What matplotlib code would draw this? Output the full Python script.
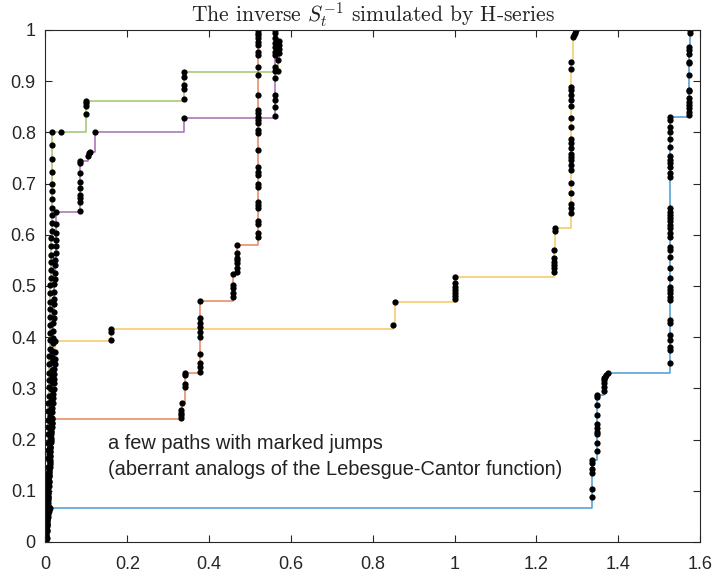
import numpy as np
import matplotlib
matplotlib.use('Agg')
from matplotlib import pyplot as plt
from matplotlib.ticker import FormatStrFormatter

# blue path (x = S, y = u)
BLUE_X = [0.000, 0.001, 0.002, 0.002, 0.003, 0.004, 0.005, 0.006, 0.008, 0.010,
          1.336, 1.336, 1.336, 1.336, 1.336, 1.337,
          1.348, 1.348, 1.348, 1.348, 1.348, 1.348, 1.348, 1.348, 1.348, 1.349,
          1.366, 1.366, 1.366, 1.366, 1.366, 1.367, 1.370, 1.376,
          1.527, 1.527, 1.527, 1.527, 1.527, 1.527, 1.527, 1.527, 1.527, 1.527,
          1.527, 1.527, 1.527, 1.527, 1.527, 1.527, 1.527, 1.527, 1.527, 1.527,
          1.527, 1.527, 1.527, 1.527, 1.527, 1.527, 1.527, 1.527, 1.527, 1.527,
          1.527, 1.527, 1.527, 1.527, 1.527, 1.527, 1.527, 1.527,
          1.572, 1.572, 1.572, 1.572, 1.572, 1.572, 1.572, 1.572, 1.572, 1.574,
          1.574, 1.574, 1.574, 1.574, 1.575, 1.575]
BLUE_Y = [0.004, 0.011, 0.019, 0.026, 0.034, 0.041, 0.048, 0.055, 0.061, 0.066,
          0.087, 0.103, 0.135, 0.142, 0.155, 0.160,
          0.178, 0.193, 0.211, 0.215, 0.222, 0.230, 0.249, 0.268, 0.283, 0.287,
          0.294, 0.303, 0.310, 0.316, 0.320, 0.323, 0.326, 0.331,
          0.349, 0.375, 0.381, 0.395, 0.404, 0.427, 0.434, 0.473, 0.479, 0.486,
          0.492, 0.498, 0.515, 0.535, 0.557, 0.570, 0.577, 0.596, 0.603, 0.613,
          0.619, 0.626, 0.632, 0.639, 0.645, 0.652, 0.713, 0.720, 0.733, 0.740,
          0.746, 0.753, 0.772, 0.788, 0.801, 0.811, 0.824, 0.831,
          0.834, 0.840, 0.847, 0.854, 0.860, 0.867, 0.880, 0.883, 0.912, 0.935,
          0.938, 0.954, 0.961, 0.967, 0.994, 1.000]

# red path
RED_X = [0.001, 0.001, 0.002, 0.002, 0.003, 0.003, 0.004, 0.004, 0.005, 0.005,
         0.006, 0.006, 0.007, 0.007, 0.008, 0.008, 0.009, 0.009, 0.010, 0.010,
         0.011, 0.011, 0.012, 0.012, 0.013, 0.013, 0.014, 0.014, 0.015, 0.015,
         0.332, 0.332, 0.332, 0.332, 0.333,
         0.340, 0.340, 0.340, 0.340,
         0.377, 0.377, 0.377, 0.377, 0.377, 0.377, 0.377, 0.377, 0.377, 0.378,
         0.458, 0.458, 0.458, 0.458, 0.458,
         0.467, 0.467, 0.467, 0.467, 0.467, 0.467, 0.467,
         0.519, 0.519, 0.519, 0.519, 0.519, 0.519, 0.519, 0.519, 0.519, 0.519,
         0.519, 0.519, 0.519, 0.519, 0.519, 0.519, 0.519, 0.519, 0.519, 0.519,
         0.519, 0.519, 0.519, 0.519, 0.519, 0.519, 0.519, 0.519, 0.519, 0.519,
         0.519]
RED_Y = [0.004, 0.011, 0.021, 0.028, 0.037, 0.045, 0.052, 0.062, 0.070, 0.076,
         0.087, 0.095, 0.101, 0.112, 0.118, 0.128, 0.136, 0.142, 0.153, 0.161,
         0.167, 0.177, 0.184, 0.194, 0.200, 0.210, 0.216, 0.226, 0.232, 0.240,
         0.242, 0.248, 0.252, 0.257, 0.271,
         0.303, 0.309, 0.326, 0.331,
         0.333, 0.341, 0.349, 0.367, 0.401, 0.411, 0.419, 0.427, 0.437, 0.470,
         0.479, 0.486, 0.496, 0.502, 0.523,
         0.528, 0.535, 0.544, 0.551, 0.554, 0.564, 0.580,
         0.596, 0.603, 0.622, 0.626, 0.652, 0.658, 0.665, 0.694, 0.700, 0.717,
         0.723, 0.733, 0.766, 0.798, 0.805, 0.818, 0.824, 0.831, 0.837, 0.844,
         0.873, 0.912, 0.928, 0.951, 0.958, 0.971, 0.977, 0.984, 0.990, 0.995,
         1.000]

# yellow path
YELLOW_X = [0.002, 0.002, 0.003, 0.003, 0.004, 0.004, 0.005, 0.005, 0.006, 0.006,
            0.007, 0.008, 0.008, 0.009, 0.009, 0.010, 0.011, 0.011, 0.012, 0.012,
            0.013, 0.014, 0.014, 0.015, 0.015, 0.016, 0.017, 0.017, 0.018, 0.018,
            0.019, 0.020, 0.020, 0.021, 0.021, 0.022, 0.023, 0.023, 0.024, 0.024,
            0.159, 0.159, 0.159,
            0.849, 0.855,
            1.001, 1.001, 1.001, 1.001, 1.001, 1.001, 1.001,
            1.242, 1.242, 1.242, 1.242, 1.242, 1.242, 1.246, 1.246,
            1.284, 1.284, 1.284, 1.284, 1.284, 1.284, 1.284, 1.284, 1.284, 1.284,
            1.284, 1.284, 1.284, 1.284, 1.284, 1.284, 1.284, 1.284, 1.284, 1.284,
            1.284, 1.284, 1.290, 1.292, 1.295, 1.297]
YELLOW_Y = [0.006, 0.015, 0.024, 0.035, 0.043, 0.053, 0.062, 0.071, 0.082, 0.090,
            0.100, 0.110, 0.119, 0.128, 0.139, 0.147, 0.157, 0.167, 0.176, 0.185,
            0.196, 0.204, 0.214, 0.224, 0.233, 0.242, 0.253, 0.261, 0.271, 0.281,
            0.290, 0.299, 0.310, 0.318, 0.328, 0.338, 0.347, 0.357, 0.372, 0.392,
            0.395, 0.411, 0.416,
            0.423, 0.469,
            0.474, 0.480, 0.486, 0.492, 0.498, 0.506, 0.518,
            0.528, 0.535, 0.541, 0.547, 0.554, 0.570, 0.608, 0.613,
            0.643, 0.652, 0.660, 0.681, 0.702, 0.727, 0.736, 0.746, 0.751, 0.758,
            0.769, 0.779, 0.788, 0.810, 0.829, 0.852, 0.863, 0.873, 0.883, 0.889,
            0.923, 0.938, 0.987, 0.990, 0.995, 1.000]

# purple path
PURPLE_X = [0.003, 0.003, 0.004, 0.004, 0.005, 0.005, 0.006, 0.006, 0.007, 0.007,
            0.008, 0.008, 0.009, 0.009, 0.010, 0.010, 0.011, 0.011, 0.012, 0.012,
            0.013, 0.013, 0.014, 0.014, 0.015, 0.015, 0.016, 0.016, 0.017, 0.017,
            0.018, 0.018, 0.019, 0.019, 0.020, 0.020, 0.021, 0.021, 0.022, 0.022,
            0.023, 0.023, 0.024, 0.024, 0.025, 0.025, 0.025, 0.026, 0.026, 0.026,
            0.0855, 0.0855, 0.0855, 0.0855, 0.0855, 0.0855, 0.0855, 0.0855, 0.0855,
            0.103, 0.106, 0.108, 0.122, 0.338,
            0.560, 0.560, 0.560, 0.560, 0.560, 0.560, 0.560, 0.560,
            0.562, 0.562, 0.562, 0.562, 0.562, 0.562]
PURPLE_Y = [0.008, 0.021, 0.032, 0.046, 0.058, 0.071, 0.085, 0.095, 0.109, 0.123,
            0.133, 0.147, 0.161, 0.171, 0.185, 0.199, 0.209, 0.223, 0.237, 0.247,
            0.261, 0.275, 0.285, 0.298, 0.313, 0.323, 0.336, 0.351, 0.361, 0.374,
            0.389, 0.399, 0.412, 0.427, 0.437, 0.450, 0.465, 0.475, 0.488, 0.503,
            0.513, 0.526, 0.541, 0.551, 0.564, 0.579, 0.589, 0.603, 0.622, 0.644,
            0.647, 0.665, 0.671, 0.678, 0.691, 0.704, 0.720, 0.740, 0.745,
            0.753, 0.760, 0.762, 0.800, 0.829,
            0.833, 0.849, 0.863, 0.873, 0.906, 0.919, 0.928, 0.951,
            0.958, 0.967, 0.974, 0.984, 0.994, 1.000]

# green path
GREEN_X = [0.002, 0.002, 0.002, 0.003, 0.003, 0.003, 0.004, 0.004, 0.004, 0.005,
           0.005, 0.005, 0.006, 0.006, 0.006, 0.007, 0.007, 0.007, 0.008, 0.008,
           0.008, 0.009, 0.009, 0.009, 0.010, 0.010, 0.010, 0.011, 0.011, 0.011,
           0.012, 0.012, 0.012, 0.013, 0.013, 0.013, 0.014, 0.014, 0.014, 0.015,
           0.015, 0.015, 0.016, 0.016, 0.016, 0.016, 0.016, 0.016, 0.016, 0.016,
           0.038,
           0.098, 0.098, 0.098, 0.098,
           0.338, 0.338, 0.338, 0.338, 0.338,
           0.568, 0.569, 0.570, 0.570, 0.571, 0.571]
GREEN_Y = [0.010, 0.025, 0.041, 0.055, 0.072, 0.087, 0.101, 0.118, 0.133, 0.147,
           0.164, 0.179, 0.193, 0.210, 0.225, 0.239, 0.256, 0.271, 0.285, 0.302,
           0.317, 0.331, 0.348, 0.363, 0.377, 0.394, 0.409, 0.423, 0.440, 0.455,
           0.469, 0.486, 0.501, 0.515, 0.532, 0.547, 0.561, 0.578, 0.593, 0.607,
           0.624, 0.639, 0.653, 0.670, 0.685, 0.700, 0.722, 0.748, 0.775, 0.800,
           0.800,
           0.835, 0.852, 0.858, 0.862,
           0.865, 0.884, 0.893, 0.909, 0.917,
           0.920, 0.941, 0.955, 0.963, 0.970, 0.978]

PATHS = [
    (BLUE_X, BLUE_Y, '#0072BD'),
    (RED_X, RED_Y, '#D95319'),
    (YELLOW_X, YELLOW_Y, '#EDB120'),
    (PURPLE_X, PURPLE_Y, '#7E2F8E'),
    (GREEN_X, GREEN_Y, '#77AC30'),
]

X_TICKS = [0, 0.2, 0.4, 0.6, 0.8, 1.0, 1.2, 1.4, 1.6]
Y_TICKS = [0, 0.1, 0.2, 0.3, 0.4, 0.5, 0.6, 0.7, 0.8, 0.9, 1.0]

AX_COLOR = '#262626'


def main():
    plt.rcParams['font.family'] = ['Liberation Sans', 'DejaVu Sans']
    plt.rcParams['mathtext.fontset'] = 'cm'

    fig = plt.figure(figsize=(7.15, 5.79), dpi=100)
    ax = fig.add_axes([45.5 / 715, 37 / 579, 654.5 / 715, 512 / 579])

    for xs, ys, color in PATHS:
        ax.step(xs, ys, where='post', color=color, lw=1.1, alpha=0.7)
    for xs, ys, color in PATHS:
        ax.plot(xs, ys, 'o', color='k', markersize=4.5, markeredgewidth=0)

    ax.set_xlim(0, 1.6)
    ax.set_ylim(0, 1)
    ax.set_xticks(X_TICKS)
    ax.set_yticks(Y_TICKS)
    ax.xaxis.set_major_formatter(FormatStrFormatter('%g'))
    ax.yaxis.set_major_formatter(FormatStrFormatter('%g'))
    ax.tick_params(direction='in', length=5, width=0.8, colors=AX_COLOR,
                   labelsize=13, top=True, right=True)
    ax.tick_params(axis='x', pad=10)
    ax.tick_params(axis='y', pad=7)
    for spine in ax.spines.values():
        spine.set_color(AX_COLOR)
        spine.set_linewidth(0.8)

    ax.set_title(r'The inverse $S_t^{-1}$ simulated by H-series',
                 fontfamily='cmr10', fontsize=15.5, color='#222222', pad=6)

    ax.text(0.154, 0.193, 'a few paths with marked jumps',
            fontsize=14.4, color='#222222', va='center', ha='left')
    ax.text(0.154, 0.141, '(aberrant analogs of the Lebesgue-Cantor function)',
            fontsize=14.4, color='#222222', va='center', ha='left')

    fig.savefig('out.png', dpi=100)


if __name__ == "__main__":
    main()
